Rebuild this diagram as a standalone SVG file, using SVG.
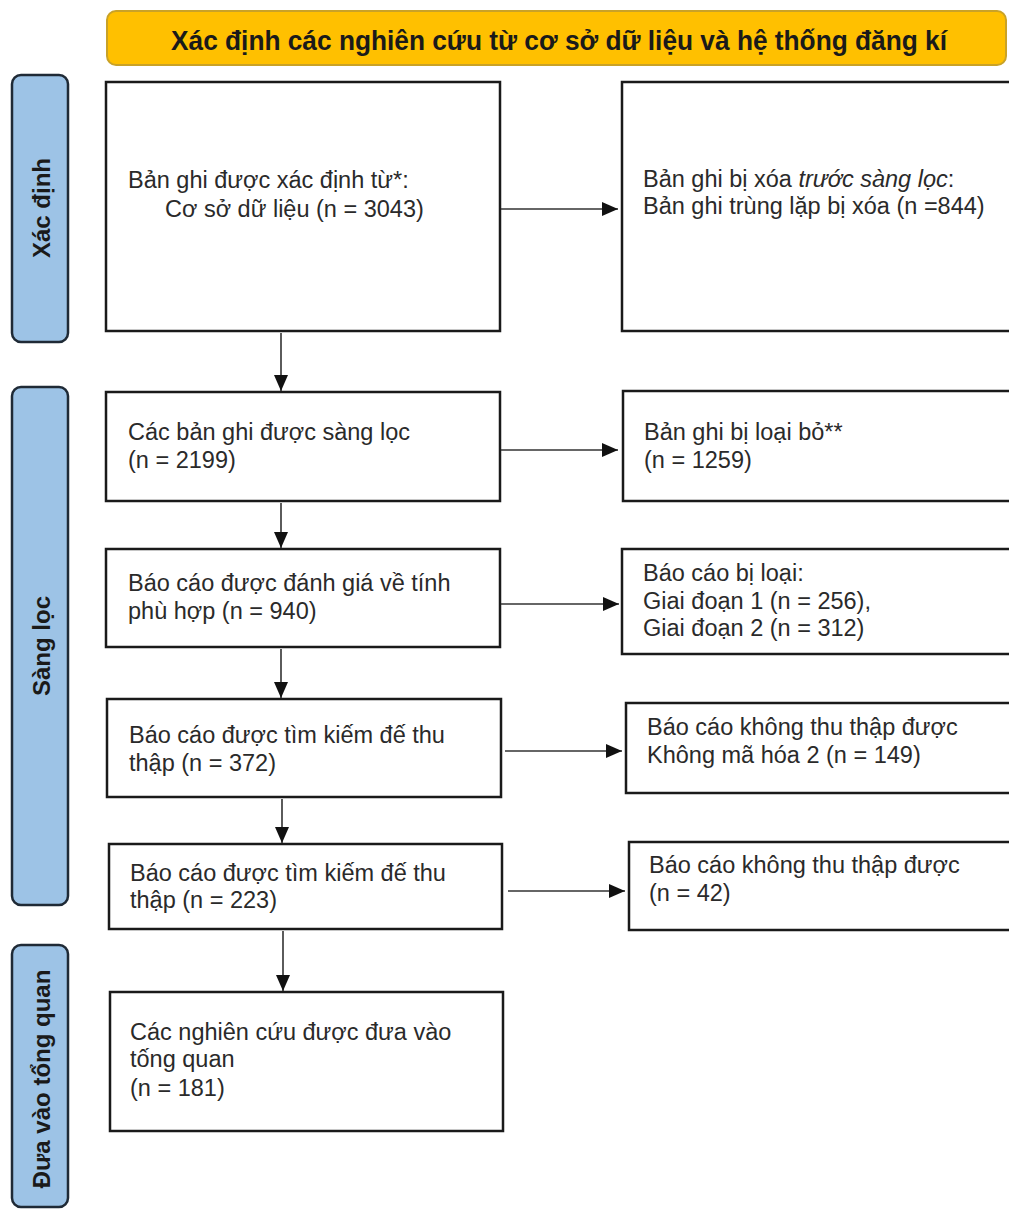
<svg xmlns="http://www.w3.org/2000/svg" width="1009" height="1209" viewBox="0 0 1009 1209">
<defs>
<marker id="ah" markerWidth="16" markerHeight="14" refX="16" refY="7" orient="auto" markerUnits="userSpaceOnUse">
<path d="M0,0 L16,7 L0,14 Z" fill="#111"/>
</marker>
<style>
.box{fill:#fff;stroke:#1a1a1a;stroke-width:2.5}
.bar{fill:#9DC3E6;stroke:#1f2a36;stroke-width:2.5}
.t{font-family:"Liberation Sans",Arial,sans-serif;font-size:23.5px;fill:#2a2a2a}
.bt{font-family:"Liberation Sans",Arial,sans-serif;font-size:24px;font-weight:bold;fill:#1a1a1a}
.c{stroke:#333;stroke-width:1.6;fill:none;marker-end:url(#ah)}
</style>
</defs>
<rect width="1009" height="1209" fill="#fff"/>
<g id="header">
<rect x="107" y="11" width="899" height="54" rx="9" fill="#FFC000" stroke="#C9A227" stroke-width="2"/>
<text x="559" y="50" text-anchor="middle" class="bt" textLength="776" lengthAdjust="spacingAndGlyphs" style="font-size:28px">Xác định các nghiên cứu từ cơ sở dữ liệu và hệ thống đăng kí</text>
</g>
<g id="bar-xacdinh">
<rect x="12" y="75" width="56" height="267" rx="9" class="bar"/>
<text transform="translate(41,208) rotate(-90)" text-anchor="middle" dominant-baseline="central" class="bt">Xác định</text>
</g>
<g id="bar-sangloc">
<rect x="12" y="387" width="56" height="518" rx="9" class="bar"/>
<text transform="translate(41,646) rotate(-90)" text-anchor="middle" dominant-baseline="central" class="bt">Sàng lọc</text>
</g>
<g id="bar-duavao">
<rect x="12" y="945" width="56" height="262" rx="9" class="bar"/>
<text transform="translate(41,1079) rotate(-90)" text-anchor="middle" dominant-baseline="central" class="bt">Đưa vào tổng quan</text>
</g>
<g id="n1">
<rect x="106" y="82" width="394" height="249" class="box"/>
<text class="t"><tspan x="128" y="188">Bản ghi được xác định từ*:</tspan><tspan x="165" y="216.5">Cơ sở dữ liệu (n = 3043)</tspan></text>
</g>
<g id="r1">
<rect x="622" y="82" width="400" height="249" class="box"/>
<text class="t"><tspan x="643" y="187">Bản ghi bị xóa <tspan font-style="italic">trước sàng lọc</tspan>:</tspan><tspan x="643" y="214">Bản ghi trùng lặp bị xóa (n =844)</tspan></text>
</g>
<g id="n2">
<rect x="106" y="392" width="394" height="109" class="box"/>
<text class="t"><tspan x="128" y="440">Các bản ghi được sàng lọc</tspan><tspan x="128" y="468">(n = 2199)</tspan></text>
</g>
<g id="r2">
<rect x="623" y="391" width="400" height="110" class="box"/>
<text class="t"><tspan x="644" y="440">Bản ghi bị loại bỏ**</tspan><tspan x="644" y="468">(n = 1259)</tspan></text>
</g>
<g id="n3">
<rect x="106" y="549" width="394" height="98" class="box"/>
<text class="t"><tspan x="128" y="591">Báo cáo được đánh giá về tính</tspan><tspan x="128" y="619">phù hợp (n = 940)</tspan></text>
</g>
<g id="r3">
<rect x="622" y="549" width="400" height="105" class="box"/>
<text class="t"><tspan x="643" y="581">Báo cáo bị loại:</tspan><tspan x="643" y="609">Giai đoạn 1 (n = 256),</tspan><tspan x="643" y="636">Giai đoạn 2 (n = 312)</tspan></text>
</g>
<g id="n4">
<rect x="107" y="699" width="394" height="98" class="box"/>
<text class="t"><tspan x="129" y="743">Báo cáo được tìm kiếm đế thu</tspan><tspan x="129" y="771">thập (n = 372)</tspan></text>
</g>
<g id="r4">
<rect x="626" y="703" width="400" height="90" class="box"/>
<text class="t"><tspan x="647" y="735">Báo cáo không thu thập được</tspan><tspan x="647" y="763">Không mã hóa 2 (n = 149)</tspan></text>
</g>
<g id="n5">
<rect x="109" y="844" width="393" height="85" class="box"/>
<text class="t"><tspan x="130" y="881">Báo cáo được tìm kiếm đế thu</tspan><tspan x="130" y="908">thập (n = 223)</tspan></text>
</g>
<g id="r5">
<rect x="629" y="842" width="400" height="88" class="box"/>
<text class="t"><tspan x="649" y="873">Báo cáo không thu thập được</tspan><tspan x="649" y="901">(n = 42)</tspan></text>
</g>
<g id="n6">
<rect x="110" y="992" width="393" height="139" class="box"/>
<text class="t"><tspan x="130" y="1040">Các nghiên cứu được đưa vào</tspan><tspan x="130" y="1067">tống quan</tspan><tspan x="130" y="1096">(n = 181)</tspan></text>
</g>
<g id="connectors">
<line x1="281" y1="333" x2="281" y2="391" class="c"/>
<line x1="281" y1="503" x2="281" y2="548" class="c"/>
<line x1="281" y1="649" x2="281" y2="698" class="c"/>
<line x1="282" y1="799" x2="282" y2="843" class="c"/>
<line x1="283" y1="931" x2="283" y2="991" class="c"/>
<line x1="501" y1="209" x2="618" y2="209" class="c"/>
<line x1="501" y1="450" x2="618" y2="450" class="c"/>
<line x1="501" y1="604" x2="619" y2="604" class="c"/>
<line x1="505" y1="751" x2="622" y2="751" class="c"/>
<line x1="508" y1="891" x2="625" y2="891" class="c"/>
</g>
</svg>
